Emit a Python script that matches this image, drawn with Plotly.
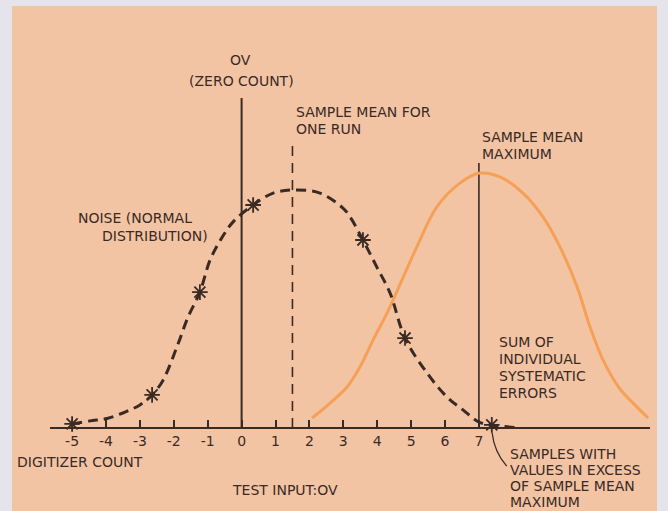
import plotly.graph_objects as go

# ---- data -------------------------------------------------------------
# Noise curve (normal distribution of digitizer counts), relative height
noise_x = [-5.0, -4.47, -3.97, -3.44, -3.0, -2.64, -2.32, -1.91, -1.58, -1.23,
           -0.93, -0.58, -0.25, 0.34, 0.93, 1.52, 2.31, 2.99, 3.2, 3.58,
           3.99, 4.38, 4.82, 5.47, 6.06, 6.53, 7.0, 7.38, 8.2]
noise_y = [0.017, 0.03, 0.04, 0.067, 0.097, 0.139, 0.20, 0.34, 0.466, 0.571,
           0.706, 0.80, 0.866, 0.937, 0.987, 1.0, 0.987, 0.924, 0.887, 0.79,
           0.676, 0.567, 0.378, 0.231, 0.13, 0.076, 0.025, 0.013, 0.0]

# Individual samples marked on the noise curve
sample_x = [-5.0, -2.64, -1.23, 0.34, 3.58, 4.82, 7.38]
sample_y = [0.017, 0.139, 0.571, 0.937, 0.79, 0.378, 0.013]

# Sum of individual systematic errors
sys_x = [2.08, 2.61, 3.11, 3.49, 3.88, 4.29, 4.47, 5.17, 5.76, 6.44, 7.03,
         7.62, 8.30, 8.89, 9.39, 9.9, 10.28, 10.66, 11.16, 11.6, 11.99]
sys_y = [0.042, 0.105, 0.172, 0.256, 0.37, 0.483, 0.538, 0.761, 0.929, 1.029,
         1.071, 1.055, 0.987, 0.887, 0.761, 0.592, 0.424, 0.286, 0.164, 0.097,
         0.042]

# Reference levels on the count axis
zero_count = 0
run_mean = 1.5
max_mean = 7

tick_vals = [-5, -4, -3, -2, -1, 0, 1, 2, 3, 4, 5, 6, 7]
tick_text = ["-5", "-4", "-3", "-2", "-1", "0", "1", "2", "3", "4", "5", "6", "7"]

# ---- styling ------------------------------------------------------------
W, H = 668, 511
INK = "#3a2a24"
PEACH = "#f3c4a4"
EDGE = "#e4e4ea"
ORANGE = "#f5a056"
FONT = "DejaVu Sans"

fig = go.Figure()

# Vertical reference lines
fig.add_trace(go.Scatter(x=[zero_count, zero_count], y=[0, 1.387], mode="lines",
                         line=dict(color=INK, width=2), hoverinfo="skip"))
fig.add_trace(go.Scatter(x=[run_mean, run_mean], y=[0, 1.21], mode="lines",
                         line=dict(color=INK, width=1.6, dash="10px,7px"),
                         hoverinfo="skip"))
fig.add_trace(go.Scatter(x=[max_mean, max_mean], y=[0, 1.113], mode="lines",
                         line=dict(color=INK, width=1.6), hoverinfo="skip"))

# Systematic error curve
fig.add_trace(go.Scatter(x=sys_x, y=sys_y, mode="lines", line_shape="spline",
                         line=dict(color=ORANGE, width=3), hoverinfo="skip"))

# Noise curve
fig.add_trace(go.Scatter(x=noise_x, y=noise_y, mode="lines", line_shape="spline",
                         line=dict(color=INK, width=3, dash="10px,6px"),
                         hoverinfo="skip"))
fig.add_trace(go.Scatter(x=sample_x, y=sample_y, mode="markers", cliponaxis=False,
                         marker=dict(symbol="asterisk-open", size=13, color=INK,
                                     line=dict(color=INK, width=1.8)),
                         hoverinfo="skip"))

# ---- text labels (pixel positions -> paper coordinates) -----------------
def label(text, xp, yp, anchor="left", size=14):
    fig.add_annotation(text=text, x=xp / W, y=1 - yp / H, xref="paper", yref="paper",
                       xanchor=anchor, yanchor="middle", showarrow=False,
                       font=dict(family=FONT, size=size, color=INK))

label("OV", 240, 60, "center")
label("(ZERO COUNT)", 241, 81, "center")
label("SAMPLE MEAN FOR", 294, 112)
label("ONE RUN", 294, 129)
label("SAMPLE MEAN", 480, 137)
label("MAXIMUM", 480, 154)
label("NOISE (NORMAL", 76, 218)
label("DISTRIBUTION)", 100, 236)
label("SUM OF", 497, 342)
label("INDIVIDUAL", 497, 359)
label("SYSTEMATIC", 497, 376)
label("ERRORS", 497, 393)
label("DIGITIZER COUNT", 15, 462)
label("TEST INPUT:OV", 285, 490, "center")
label("SAMPLES WITH", 508, 454)
label("VALUES IN EXCESS", 508, 470)
label("OF SAMPLE MEAN", 508, 486)
label("MAXIMUM", 508, 502)

# Background panel and the pointer from the excess sample to its label
fig.add_shape(type="rect", xref="paper", yref="paper", x0=12 / W, x1=657 / W,
              y0=0, y1=1 - 6 / H, fillcolor=PEACH, line_width=0, layer="below")
fig.add_shape(type="path", xref="x", yref="y",
              path="M 7.39,-0.02 Q 7.45,-0.10 7.82,-0.16",
              line=dict(color=INK, width=1.3))

x_left, x_right = 50, 650
px_per_unit = 33.9
x0_px = 241.6
fig.update_layout(
    width=W, height=H, margin=dict(l=0, r=0, t=0, b=0),
    paper_bgcolor=EDGE, plot_bgcolor="rgba(0,0,0,0)", showlegend=False,
    xaxis=dict(domain=[x_left / W, x_right / W],
               range=[(x_left - x0_px) / px_per_unit, (x_right - x0_px) / px_per_unit],
               anchor="free", position=(H - 428) / H,
               showline=True, linecolor=INK, linewidth=2,
               ticks="inside", ticklen=7, tickwidth=2, tickcolor=INK,
               tickvals=tick_vals, ticktext=tick_text,
               tickfont=dict(family=FONT, size=14, color=INK),
               showgrid=False, zeroline=False, fixedrange=True),
    yaxis=dict(domain=[0, 1], range=[-(511 - 428) / 238, 428 / 238],
               visible=False, fixedrange=True),
)

fig.write_html("out.html")
